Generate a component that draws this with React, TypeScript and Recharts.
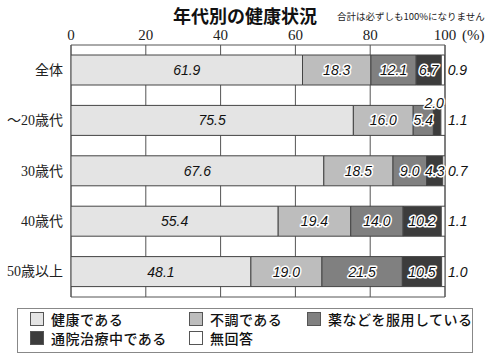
import React from 'react';
import { BarChart, Bar, XAxis, YAxis, CartesianGrid, LabelList, ReferenceArea } from 'recharts';

// values (percent)
const categories = ['全体', '～20歳代', '30歳代', '40歳代', '50歳以上'];
const healthy = [61.9, 75.5, 67.6, 55.4, 48.1];
const unwell = [18.3, 16.0, 18.5, 19.4, 19.0];
const medication = [12.1, 5.4, 9.0, 14.0, 21.5];
const treatment = [6.7, 2.0, 4.3, 10.2, 10.5];
const noAnswer = [0.9, 1.1, 0.7, 1.1, 1.0];
const xTicks = [0, 20, 40, 60, 80, 100];

const seriesKeys = ['healthy', 'unwell', 'medication', 'treatment', 'noAnswer'];
const seriesNames = ['健康である', '不調である', '薬などを服用している', '通院治療中である', '無回答'];
const seriesColors = ['#e4e4e4', '#bdbdbd', '#808080', '#3c3c3c', '#ffffff'];

const data = categories.map((name, i) => ({
  name,
  healthy: healthy[i],
  unwell: unwell[i],
  medication: medication[i],
  treatment: treatment[i],
  noAnswer: noAnswer[i],
}));

const serif = '"Liberation Serif", "Noto Sans CJK JP", serif';
const gothic = '"Noto Sans CJK JP", sans-serif';
const labelFont = '"Liberation Sans", Arial, sans-serif';

const TopTick = (props: any) => {
  const { x, y, payload } = props;
  return (
    <g>
      <text x={x} y={y - 2} textAnchor="middle" dominantBaseline="central" fontFamily={serif} fontSize={15} fill="#222">
        {payload.value}
      </text>
      {payload.value === 100 && (
        <text x={x + 17} y={y - 2} dominantBaseline="central" fontFamily={serif} fontSize={15} fill="#222">
          (%)
        </text>
      )}
    </g>
  );
};

const CatTick = (props: any) => {
  const { x, y, payload } = props;
  return (
    <text x={x} y={y} textAnchor="end" dominantBaseline="central" fontFamily={serif} fontSize={14} fill="#222">
      {payload.value}
    </text>
  );
};

// labels inside the segments; narrow segments get their label above the bar
const segLabel = (halo: boolean) => (props: any) => {
  const x = Number(props.x);
  const y = Number(props.y);
  const w = Number(props.width);
  const h = Number(props.height);
  const v = Number(props.value);
  const small = w < 10;
  return (
    <text
      x={small ? x + w / 2 - 3 : x + w / 2}
      y={small ? y - 2 : y + h / 2}
      textAnchor="middle"
      dominantBaseline="central"
      fontFamily={labelFont}
      fontStyle="italic"
      fontSize={14}
      fill="#111"
      stroke={halo ? '#fff' : 'none'}
      strokeWidth={3}
      strokeLinejoin="round"
      paintOrder="stroke"
    >
      {v.toFixed(1)}
    </text>
  );
};

const outsideLabel = (props: any) => {
  const x = Number(props.x);
  const y = Number(props.y);
  const w = Number(props.width);
  const h = Number(props.height);
  return (
    <text x={x + w + 3} y={y + h / 2} dominantBaseline="central" fontFamily={labelFont} fontStyle="italic" fontSize={14} fill="#111">
      {Number(props.value).toFixed(1)}
    </text>
  );
};

const legendCols = [12, 171, 289];

export default function App() {
  return (
    <div style={{ position: 'absolute', left: 0, top: 0, width: 490, height: 358, background: '#fff', overflow: 'hidden' }}>
      <div style={{ position: 'absolute', left: 0, top: 3, width: 490, textAlign: 'center', fontFamily: gothic, fontWeight: 700, fontSize: 18, lineHeight: '24px', color: '#111' }}>
        年代別の健康状況
      </div>
      <div style={{ position: 'absolute', left: 337, top: 9, fontFamily: gothic, fontSize: 9.5, lineHeight: '14px', color: '#222', whiteSpace: 'nowrap' }}>
        合計は必ずしも100%になりません
      </div>
      <BarChart
        width={490}
        height={358}
        data={data}
        layout="vertical"
        barSize={30}
        margin={{ top: 15, right: 45, left: 0, bottom: 61 }}
      >
        <CartesianGrid horizontal={false} stroke="#555" strokeWidth={1} />
        <XAxis
          type="number"
          orientation="top"
          domain={[0, 100]}
          ticks={xTicks}
          allowDataOverflow
          axisLine={false}
          tickLine={false}
          height={30}
          tick={<TopTick />}
        />
        <YAxis type="category" dataKey="name" width={71} axisLine={false} tickLine={false} tickMargin={2} tick={<CatTick />} />
        {seriesKeys.map((key, i) => (
          <Bar
            key={key}
            dataKey={key}
            name={seriesNames[i]}
            stackId="a"
            fill={seriesColors[i]}
            stroke="#444"
            strokeWidth={1}
            isAnimationActive={false}
          >
            <LabelList dataKey={key} content={i === 4 ? outsideLabel : segLabel(i > 0)} />
          </Bar>
        ))}
        <ReferenceArea x1={0} x2={100} fill="none" stroke="#555" strokeWidth={1} ifOverflow="visible" />
      </BarChart>
      <div style={{ position: 'absolute', left: 17, top: 308, width: 456, height: 45, boxSizing: 'border-box', border: '1px solid #888' }}>
        {seriesNames.map((n, i) => {
          const row = i < 3 ? 0 : 1;
          const col = i < 3 ? i : i - 3;
          return (
            <div key={n} style={{ position: 'absolute', left: legendCols[col], top: row === 0 ? 1 : 20, height: 18, display: 'flex', alignItems: 'center' }}>
              <span style={{ display: 'inline-block', width: 14, height: 14, boxSizing: 'border-box', background: seriesColors[i], border: '1px solid #555' }} />
              <span style={{ marginLeft: 7, fontFamily: gothic, fontSize: 14, fontWeight: 500, letterSpacing: 0.5, color: '#111', whiteSpace: 'nowrap' }}>{n}</span>
            </div>
          );
        })}
      </div>
    </div>
  );
}
